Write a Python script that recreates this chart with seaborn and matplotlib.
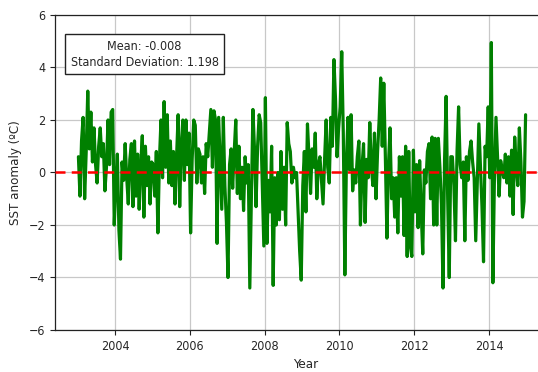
import numpy as np
import pandas as pd
import seaborn as sns
import matplotlib
matplotlib.use("Agg")
import matplotlib.pyplot as plt

# SST anomaly values (24 samples per year, 2003-2014)
sst_2003 = [0.6, -0.9, 1.2, 2.1, -1.0, 0.8, 3.1, 0.9, 2.3, 0.4, 1.7, 0.3, -0.4, 1.0, 1.7, 0.6, 1.1, -0.7, 0.2, 2.0, 0.3, 2.3, 2.4, -2.0]
sst_2004 = [-0.4, 0.7, -2.2, -3.3, 0.4, -0.3, 1.1, -0.2, -1.2, 0.5, 1.1, -1.3, 1.2, -0.9, 0.7, -1.4, 0.3, 1.4, -1.7, 1.0, -0.5, 0.6, -1.2, 0.4]
sst_2005 = [0.3, -0.9, 0.8, -2.3, 0.5, 2.0, -0.2, 2.7, 0.2, 2.2, -0.4, 1.2, -0.5, 0.8, -1.2, 0.6, 2.2, -1.3, 1.0, 2.0, -0.3, 2.0, 0.3, 1.5]
sst_2006 = [-2.3, 0.5, 2.0, 1.8, -0.4, 0.9, 0.7, -0.4, 0.6, -0.8, 1.1, 0.6, 1.5, 2.4, 0.2, 2.35, 2.0, -2.7, 2.1, 0.4, -1.4, 2.1, -0.5, -1.9]
sst_2007 = [-4.0, 0.3, 0.9, -0.6, 0.8, 2.0, -0.8, 1.0, -1.0, 0.2, -1.45, 0.6, -0.4, 0.3, -4.4, -1.0, 2.4, 0.9, -1.3, 1.0, 2.2, 1.9, -0.4, -2.8]
sst_2008 = [2.85, -2.7, -0.3, -1.5, 1.0, -4.3, -0.2, -2.0, 0.0, -1.8, 0.8, -1.4, 0.2, -2.0, 1.9, 1.1, 0.8, -0.4, 0.2, -0.2, 0.0, -1.5, -3.0, -4.1]
sst_2009 = [-0.5, 0.8, -1.5, 1.85, 0.6, -0.8, 0.9, 0.2, 1.5, -1.0, 0.3, 0.6, -0.3, -1.2, 0.5, 2.0, 0.2, -0.4, 2.1, 1.0, 4.3, 2.8, 0.6, 1.7]
sst_2010 = [2.5, 4.6, 1.5, -3.9, 0.4, 2.1, 0.1, 2.2, -0.7, 0.1, -0.4, 0.6, 1.2, -2.0, 0.2, 1.1, -1.9, 0.5, -0.2, 1.9, 0.2, -0.5, 1.5, -1.0]
sst_2011 = [0.8, 2.0, 3.6, 1.0, 3.4, 0.6, -2.5, 0.3, 1.7, -1.0, -0.2, -1.7, -0.2, -2.3, 0.6, -0.9, 0.6, -2.4, 1.0, -3.2, 0.8, -2.8, -3.2, 0.85]
sst_2012 = [-1.5, 0.3, -2.1, 0.45, -1.5, -3.1, 0.1, -0.4, 0.8, 1.1, -1.0, 1.35, -2.0, 1.3, -2.0, 1.3, 0.2, -1.2, -4.4, 0.5, 2.9, -1.0, -4.0, 0.6]
sst_2013 = [0.6, -0.5, -2.6, 0.8, 2.5, 0.3, -0.2, 0.4, -2.6, 0.6, -0.3, 0.8, 1.2, 0.4, -0.2, -2.6, -0.4, 1.85, 0.3, -1.3, -3.4, 1.0, 0.6, 2.5]
sst_2014 = [-0.2, 4.95, -4.2, -0.2, 2.1, 0.6, -0.9, 0.45, 0.1, -0.2, 0.7, -0.4, 0.6, -0.9, 0.85, -1.6, 1.35, 0.2, -0.5, 1.7, 0.4, -1.7, -1.1, 2.2]

years = list(range(2003, 2015))
x_ticks = [2004, 2006, 2008, 2010, 2012, 2014]
y_ticks = [-6, -4, -2, 0, 2, 4, 6]
stats_text = "Mean: -0.008\nStandard Deviation: 1.198"

yearly = [sst_2003, sst_2004, sst_2005, sst_2006, sst_2007, sst_2008,
          sst_2009, sst_2010, sst_2011, sst_2012, sst_2013, sst_2014]
xs, ys = [], []
for yr, vals in zip(years, yearly):
    n = len(vals)
    xs.extend(yr + (np.arange(n) + 0.5) / n)
    ys.extend(vals)
df = pd.DataFrame({"Year": xs, "SST": ys})

sns.set_theme(style="ticks")
plt.rcParams["font.family"] = ["DejaVu Sans"]
plt.rcParams["font.stretch"] = "condensed"

fig = plt.figure(figsize=(5.38, 3.72), dpi=100)
ax = fig.add_axes([0.1026, 0.1129, 0.93, 0.8468])

sns.lineplot(data=df, x="Year", y="SST", ax=ax, color="green", linewidth=2.3, sort=False)
ax.axhline(0, color="red", linestyle="--", linewidth=1.8, dashes=(4, 2.5), zorder=3)

ax.set_xlim(2002.4, 2015.78)
ax.set_ylim(-6, 6)
ax.set_xticks(x_ticks)
ax.set_yticks(y_ticks)
ax.grid(True, color="#c8c8c8", linewidth=0.9)
ax.tick_params(labelsize=9, length=3.5, width=0.8, color="#222222")
for s in ax.spines.values():
    s.set_color("#222222")
    s.set_linewidth(0.9)
ax.set_xlabel("Year", fontsize=9.5, labelpad=4)
ax.set_ylabel("SST anomaly (ºC)", fontsize=9.5, labelpad=5)

ax.text(0.181 * 0.9175 / 0.93, 0.875, stats_text, transform=ax.transAxes, ha="center", va="center",
        fontsize=9, linespacing=1.3,
        bbox=dict(boxstyle="square,pad=0.45", facecolor="white", edgecolor="#222222", linewidth=1))

fig.savefig("out.png", dpi=100)
